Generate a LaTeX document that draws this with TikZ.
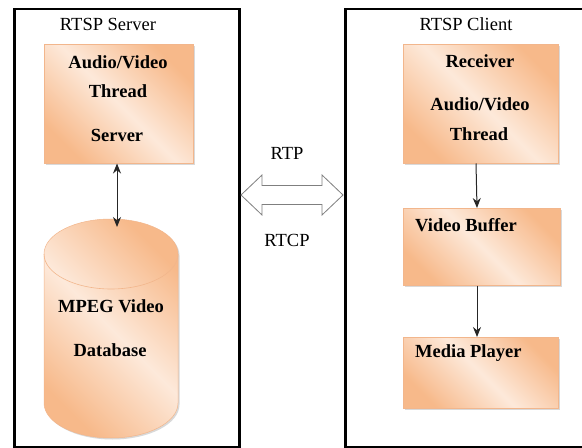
\documentclass[tikz,border=0pt]{standalone}
\usepackage{fontspec}
\setmainfont{Liberation Serif}
\usetikzlibrary{arrows.meta,shadows}
\definecolor{oD}{HTML}{F7B98A}
\definecolor{oL}{HTML}{FDE9DA}
\definecolor{oEdge}{HTML}{F2B68C}
\definecolor{arrGray}{HTML}{7F7F7F}
\pgfdeclarehorizontalshading{orshade}{100bp}{color(0bp)=(oD); color(25bp)=(oD); color(50bp)=(oL); color(75bp)=(oD); color(100bp)=(oD)}
\tikzset{
  cont/.style={draw=black, line width=2.6bp},
  obox/.style={draw=oEdge, line width=0.5bp, shading=orshade, shading angle=45,
    drop shadow={shadow xshift=1.5bp, shadow yshift=-1.5bp, opacity=0.25, fill=black!60}},
  btxt/.style={font=\fontsize{18.5bp}{20bp}\selectfont\bfseries, text=black, inner sep=0pt},
  rtxt/.style={font=\fontsize{18.5bp}{20bp}\selectfont, text=black, inner sep=0pt},
  conn/.style={draw=black!85, line width=1bp, -{Stealth[length=10bp,width=8bp]}},
}
\begin{document}
\begin{tikzpicture}[x=1bp,y=-1bp]
\useasboundingbox (0,0) rectangle (582,448);
% containers
\draw[cont] (14.5,9) rectangle (239.5,447);
\draw[cont] (585,9) -- (345.5,9) -- (345.5,447) -- (585,447);
\node[rtxt] (srvtitle) at (108,24) {RTSP Server};
\node[rtxt] (clititle) at (466,24) {RTSP Client};
% server box
\node[obox, minimum width=149bp, minimum height=119bp, inner sep=0pt, anchor=north west] (srv) at (44,44) {};
\node[btxt] (srv1) at (118,62) {Audio/Video};
\node[btxt] (srv2) at (118,91) {Thread};
\node[btxt] (srv3) at (117,135) {Server};
% cylinder
\path[obox] (44,254) -- (44,403) arc[start angle=180, end angle=0, x radius=67, y radius=35] -- (178,254) arc[start angle=0, end angle=-180, x radius=67, y radius=35] -- cycle;
\draw[oEdge, line width=0.6bp] (44,254) arc[start angle=180, end angle=0, x radius=67, y radius=35];
\coordinate (dbtop) at (117,227);
\node[btxt] (db1) at (111,306) {MPEG Video};
\node[btxt] (db2) at (110,350) {Database};
\draw[conn, {Stealth[length=10bp,width=8bp]}-{Stealth[length=10bp,width=8bp]}] (srv.south -| 117,0) -- (dbtop);
% double arrow
\draw[arrGray, fill=white, line width=0.8bp] (241,195) -- (262,175) -- (262,185.5) -- (322,185.5) -- (322,175) -- (343,195) -- (322,215) -- (322,204.5) -- (262,204.5) -- (262,215) -- cycle;
\node[rtxt] (rtp) at (287,153) {RTP};
\node[rtxt] (rtcp) at (287,240) {RTCP};
% client boxes
\node[obox, minimum width=155bp, minimum height=119bp, inner sep=0pt, anchor=north west] (rcv) at (403,44) {};
\node[btxt] (rcv1) at (480,61) {Receiver};
\node[btxt] (rcv2) at (480,104) {Audio/Video};
\node[btxt] (rcv3) at (479,134) {Thread};
\node[obox, minimum width=157bp, minimum height=77bp, inner sep=0pt, anchor=north west] (buf) at (403,208) {};
\node[btxt, anchor=west] (buft) at (415,225) {Video Buffer};
\node[obox, minimum width=155bp, minimum height=71bp, inner sep=0pt, anchor=north west] (ply) at (403,337) {};
\node[btxt, anchor=west] (plyt) at (415,353) {Media Player};
\draw[conn] (rcv.south -| 476,0) -- (buf.north -| 477,0);
\draw[conn] (buf.south -| 477,0) -- (ply.north -| 477,0);
\end{tikzpicture}
\end{document}
